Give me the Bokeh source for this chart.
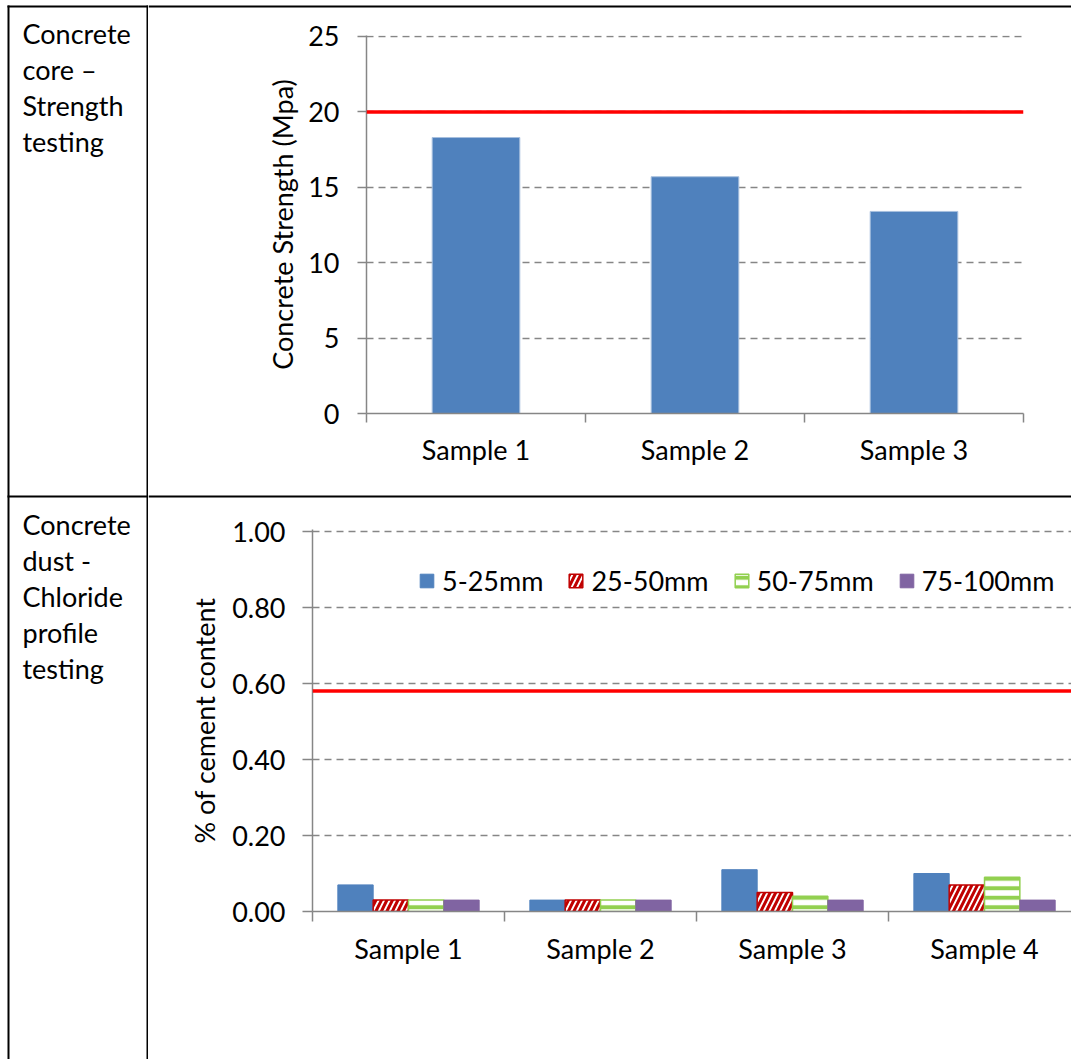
from bokeh.plotting import figure
from bokeh.layouts import column, row
from bokeh.models import (Range1d, FixedTicker, NumeralTickFormatter, Span,
                          Legend, LegendItem)
from bokeh.core.properties import value
from bokeh.embed import file_html
from bokeh.resources import INLINE

# ---------------- data ----------------
row1_text = ["Concrete", "core \u2013", "Strength", "testing"]
row2_text = ["Concrete", "dust -", "Chloride", "profile", "testing"]

strength_samples = ["Sample 1", "Sample 2", "Sample 3"]
strength_values = [18.3, 15.7, 13.4]
strength_limit = 20
strength_ticks = [0, 5, 10, 15, 20, 25]
strength_label = "Concrete Strength (Mpa)"

chloride_samples = ["Sample 1", "Sample 2", "Sample 3", "Sample 4"]
depth_labels = ["5-25mm", "25-50mm", "50-75mm", "75-100mm"]
chloride_5_25 = [0.07, 0.03, 0.11, 0.10]
chloride_25_50 = [0.03, 0.03, 0.05, 0.07]
chloride_50_75 = [0.03, 0.03, 0.04, 0.09]
chloride_75_100 = [0.03, 0.03, 0.03, 0.03]
chloride_limit = 0.58
chloride_ticks = [0.0, 0.2, 0.4, 0.6, 0.8, 1.0]
chloride_label = "% of cement content"

# ---------------- style ----------------
FONT = "Lato"
FS = "27px"
GRAY = "#868686"
W, H = 1071, 1059
LEFT_W = 148
RIGHT_W = W - LEFT_W
TOP_LINE = 5        # y of the table's top rule
MID_LINE = 495      # y of the rule between the two rows
RULE = 2


def blank_fig(w, h):
    return figure(width=w, height=h, toolbar_location=None, output_backend="svg",
                  min_border=0, x_axis_type=None, y_axis_type=None,
                  x_range=Range1d(0, w), y_range=Range1d(h, 0),
                  outline_line_color=None, frame_align=False)


# ---- left column: cell texts + table rules ----
left = blank_fig(LEFT_W, H)
left.quad(left=[7, LEFT_W - RULE, 7, 7],
          right=[7 + RULE, LEFT_W, LEFT_W, LEFT_W],
          top=[TOP_LINE, TOP_LINE, TOP_LINE, MID_LINE],
          bottom=[H, H, TOP_LINE + RULE, MID_LINE + RULE],
          fill_color="black", line_color=None)
for lines, base in ((row1_text, 33), (row2_text, 524)):
    left.text(x=[22] * len(lines), y=[base + 36 * i for i in range(len(lines))],
              text=lines, text_font=value(FONT), text_font_size=FS,
              text_color="black", text_baseline="alphabetic", text_align="left")

# ---- right column strips holding the horizontal rules ----
TOP_STRIP = 18
MID_STRIP_Y0, MID_STRIP_Y1 = 470, 512


def rule_strip(h, y_line):
    p = blank_fig(RIGHT_W, h)
    p.quad(left=[0], right=[RIGHT_W], top=[y_line], bottom=[y_line + RULE],
           fill_color="black", line_color=None)
    return p


top_strip = rule_strip(TOP_STRIP, TOP_LINE)
mid_strip = rule_strip(MID_STRIP_Y1 - MID_STRIP_Y0, MID_LINE - MID_STRIP_Y0)


def style_axes(p):
    for ax in (p.xaxis[0], p.yaxis[0]):
        ax.axis_line_color = GRAY
        ax.axis_line_width = 1.5
        ax.major_tick_line_color = GRAY
        ax.major_tick_line_width = 1.5
        ax.minor_tick_line_color = GRAY
        ax.minor_tick_line_width = 1.5
        ax.major_label_text_font = FONT
        ax.major_label_text_font_size = FS
        ax.major_label_text_color = "black"
        ax.axis_label_text_font = FONT
        ax.axis_label_text_font_size = FS
        ax.axis_label_text_font_style = "normal"
        ax.axis_label_text_color = "black"
    p.xgrid.visible = False
    p.ygrid.grid_line_color = GRAY
    p.ygrid.grid_line_width = 1.5
    p.ygrid.grid_line_dash = "7 5"


# ---------------- chart A ----------------
A_Y0, A_Y1 = TOP_STRIP, MID_STRIP_Y0
nA = len(strength_samples)
centersA = [i + 0.5 for i in range(nA)]
pA = figure(width=RIGHT_W, height=A_Y1 - A_Y0, toolbar_location=None,
            output_backend="svg",
            x_range=Range1d(0, nA), y_range=Range1d(0, 25.066),
            min_border_left=366 - LEFT_W, min_border_right=W - 1023,
            min_border_top=35 - A_Y0, min_border_bottom=A_Y1 - 413,
            outline_line_color=None, frame_align=False)
pA.vbar(x=centersA, top=strength_values, width=0.4, fill_color="#4F81BD",
        line_color="#A7BFDE", line_width=1)
pA.add_layout(Span(location=strength_limit, dimension="width",
                   line_color="#FF0000", line_width=3.5))
style_axes(pA)
pA.yaxis.ticker = FixedTicker(ticks=strength_ticks)
pA.yaxis.major_tick_out = 9
pA.yaxis.major_tick_in = 0
pA.yaxis.minor_tick_out = 0
pA.yaxis.minor_tick_in = 0
pA.yaxis.major_label_standoff = 18
pA.yaxis.axis_label = strength_label
pA.yaxis.axis_label_standoff = 6
pA.xaxis.ticker = FixedTicker(ticks=centersA, minor_ticks=list(range(nA + 1)))
pA.xaxis.major_label_overrides = {c: s for c, s in zip(centersA, strength_samples)}
pA.xaxis.major_tick_out = 0
pA.xaxis.major_tick_in = 0
pA.xaxis.minor_tick_out = 9
pA.xaxis.minor_tick_in = 0
pA.xaxis.major_label_standoff = 10

# ---------------- chart B ----------------
B_Y0, B_Y1 = MID_STRIP_Y1, H
nB = len(chloride_samples)
centersB = [i + 0.5 for i in range(nB)]
bw = 0.184
series = [chloride_5_25, chloride_25_50, chloride_50_75, chloride_75_100]
styles = [
    dict(fill_color="#4F81BD", line_color="#4F81BD", line_width=1),
    dict(fill_color="white", line_color="#C00000", line_width=1.5,
         hatch_pattern="/", hatch_color="#C00000", hatch_weight=3, hatch_scale=11),
    dict(fill_color="white", line_color="#92D050", line_width=1.5,
         hatch_pattern="-", hatch_color="#92D050", hatch_weight=4, hatch_scale=9.5),
    dict(fill_color="#8064A2", line_color="#8064A2", line_width=1),
]
pB = figure(width=RIGHT_W, height=B_Y1 - B_Y0, toolbar_location=None,
            output_backend="svg",
            x_range=Range1d(0, 3.953), y_range=Range1d(0, 1.0053),
            min_border_left=312 - LEFT_W, min_border_right=0,
            min_border_top=529 - B_Y0, min_border_bottom=B_Y1 - 911,
            outline_line_color=None, frame_align=False)
style_axes(pB)
pB.add_layout(Span(location=chloride_limit, dimension="width",
                   line_color="#FF0000", line_width=3.5))
items = []
for k, (vals, st, lab) in enumerate(zip(series, styles, depth_labels)):
    off = (k - 1.5) * bw
    r = pB.vbar(x=[c + off for c in centersB], top=vals, width=bw, **st)
    items.append(LegendItem(label=lab, renderers=[r]))
legend = Legend(items=items, orientation="horizontal", location=(106, 314),
                glyph_width=17, glyph_height=17, label_standoff=7, spacing=24,
                padding=0, margin=0, border_line_color=None,
                background_fill_alpha=0, label_text_font=FONT,
                label_text_font_size=FS, label_text_color="black")
pB.add_layout(legend)
pB.yaxis.ticker = FixedTicker(ticks=chloride_ticks)
pB.yaxis.formatter = NumeralTickFormatter(format="0.00")
pB.yaxis.major_tick_out = 10
pB.yaxis.major_tick_in = 0
pB.yaxis.minor_tick_out = 0
pB.yaxis.minor_tick_in = 0
pB.yaxis.major_label_standoff = 17
pB.yaxis.axis_label = chloride_label
pB.yaxis.axis_label_standoff = 8
pB.xaxis.ticker = FixedTicker(ticks=centersB, minor_ticks=list(range(nB + 1)))
pB.xaxis.major_label_overrides = {c: s for c, s in zip(centersB, chloride_samples)}
pB.xaxis.major_tick_out = 0
pB.xaxis.major_tick_in = 0
pB.xaxis.minor_tick_out = 10
pB.xaxis.minor_tick_in = 0
pB.xaxis.major_label_standoff = 10

# ---------------- table layout ----------------
layout = row(left, column(top_strip, pA, mid_strip, pB))

open("out.html", "w").write(file_html(layout, INLINE))
